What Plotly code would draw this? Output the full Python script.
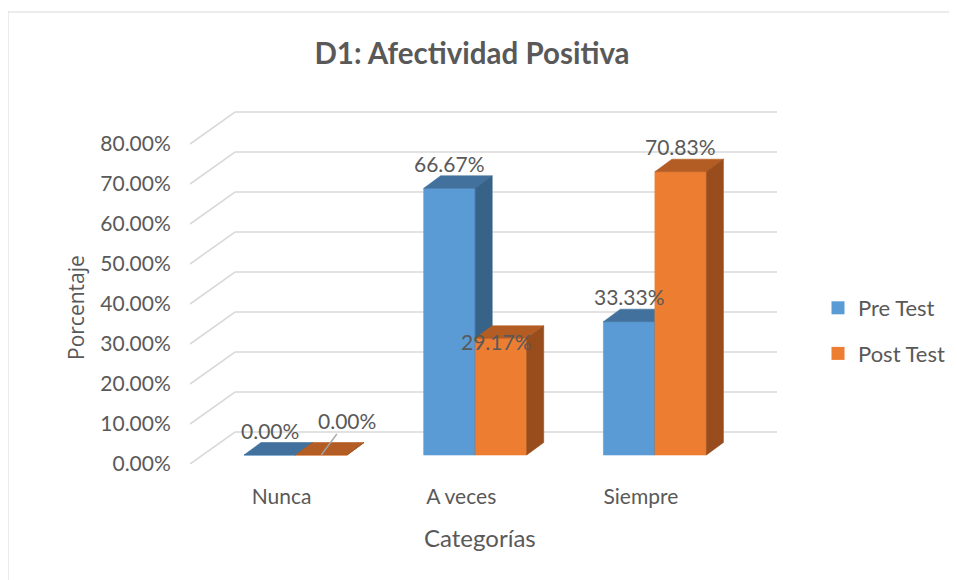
import plotly.graph_objects as go

# ---------------- data ----------------
categories = ["Nunca", "A veces", "Siempre"]
pre_test = [0.00, 66.67, 33.33]
post_test = [0.00, 29.17, 70.83]
series_names = ["Pre Test", "Post Test"]
y_ticks = [0, 10, 20, 30, 40, 50, 60, 70, 80]
y_tick_labels = [f"{t:.2f}%" for t in y_ticks]

# ---------------- style / geometry ----------------
O = 8                       # page body margin in the browser
W, H = 957 - O, 580 - O
PL, PR, PT, PB = 190, 777, 111, 464   # plot area in page pixels
M_L, M_R, M_T, M_B = PL - O, 957 - PR, PT - O, 580 - PB
PW, PH = PR - PL, PB - PT
PX_X = 179.7            # px per category step
PX_Y = 4.0              # px per percentage point
cat0_px = 295.5         # px of the first category centre
bar_w = 51.5 / PX_X
lift = 9 / PX_Y         # front faces sit a bit behind the front edge
dx = 17 / PX_X          # depth of the bars
dy = 12.5 / PX_Y
gx_front = (PL - cat0_px) / PX_X
gx_back = (235 - cat0_px) / PX_X
gx_right = (PR - cat0_px) / PX_X
g_dy = 32 / PX_Y
y_max = PH / PX_Y

colors = {
    "Pre Test": ("#5B9BD5", "#41719C", "#386389"),
    "Post Test": ("#ED7D31", "#B35C23", "#994D1D"),
}
TXT = "#595959"
FONT = "Lato"

fig = go.Figure()

# perspective grid lines (front-left diagonal + back wall)
gxs, gys = [], []
for t in y_ticks:
    gxs += [gx_front, gx_back, gx_right, None]
    gys += [t, t + g_dy, t + g_dy, None]
fig.add_trace(go.Scatter(x=gxs, y=gys, mode="lines",
                         line=dict(color="#D9D9D9", width=1.6),
                         hoverinfo="skip", showlegend=False))

values = {"Pre Test": pre_test, "Post Test": post_test}
for k, name in enumerate(series_names):
    vals = values[name]
    cf, ct, cs = colors[name]
    fx, fy, tx, ty, sx, sy = [], [], [], [], [], []
    for i, v in enumerate(vals):
        x0 = i - bar_w if k == 0 else i
        x1 = x0 + bar_w
        b, top = lift, lift + v
        fx += [x0, x1, x1, x0, x0, None]
        fy += [b, b, top, top, b, None]
        tx += [x0, x1, x1 + dx, x0 + dx, x0, None]
        ty += [top, top, top + dy, top + dy, top, None]
        sx += [x1, x1 + dx, x1 + dx, x1, x1, None]
        sy += [b, b + dy, top + dy, top, b, None]
    for xs, ys, c in ((fx, fy, cf), (tx, ty, ct), (sx, sy, cs)):
        fig.add_trace(go.Scatter(x=xs, y=ys, mode="lines", fill="toself",
                                 fillcolor=c, line=dict(color=c, width=0.6),
                                 hoverinfo="skip", showlegend=False))
    # legend entry
    fig.add_trace(go.Scatter(x=[None], y=[None], mode="markers", name=name,
                             legendgroup=name,
                             marker=dict(symbol="square", size=13, color=cf)))

# data labels
label_shift = {("Post Test", 0): (26, 35), ("Post Test", 1): (-4, -3)}
leader = {("Post Test", 0)}
for k, name in enumerate(series_names):
    for i, v in enumerate(values[name]):
        xc = i - bar_w / 2 if k == 0 else i + bar_w / 2
        txt = f"{v:.2f}%"
        sx_, sy_ = label_shift.get((name, i), (0, 25))
        if (name, i) in leader:
            fig.add_annotation(x=xc, y=lift + v, text=txt, showarrow=True,
                               arrowhead=0, arrowwidth=1.3, arrowcolor="#A6A6A6",
                               ax=sx_, ay=-sy_, standoff=0,
                               font=dict(family=FONT, size=21, color=TXT))
        else:
            fig.add_annotation(x=xc, y=lift + v, text=txt, showarrow=False,
                               xshift=sx_, yshift=sy_,
                               font=dict(family=FONT, size=21, color=TXT))

# axis titles
fig.add_annotation(text="Categorías", xref="paper", yref="paper",
                   x=(480 - PL) / PW, y=-(537 - PB) / PH,
                   xanchor="center", yanchor="middle",
                   showarrow=False, font=dict(family=FONT, size=24, color=TXT))
fig.add_annotation(text="Porcentaje", xref="paper", yref="paper", textangle=-90,
                   x=-(PL - 76) / PW, y=(PB - 307) / PH,
                   xanchor="center", yanchor="middle",
                   showarrow=False, font=dict(family="Open Sans", size=21, color=TXT))

# chart border
fig.add_shape(type="rect", xref="paper", yref="paper",
              x0=-(PL - 8) / PW, x1=2,
              y0=-1, y1=(PB - 12) / PH,
              line=dict(color="#D9D9D9", width=1), layer="below")

fig.update_layout(
    width=W, height=H,
    margin=dict(l=M_L, r=M_R, t=M_T, b=M_B, autoexpand=False),
    paper_bgcolor="white", plot_bgcolor="white",
    title=dict(text="<b>D1: Afectividad Positiva</b>", x=(472 - O) / W, xanchor="center",
               y=1 - (54 - O) / H, yanchor="middle",
               font=dict(family=FONT, size=29.5, color=TXT)),
    xaxis=dict(range=[gx_front, gx_right], showgrid=False, zeroline=False,
               showline=False, tickmode="array",
               tickvals=[i - 14 / PX_X for i in range(len(categories))],
               ticktext=categories, ticks="outside", ticklen=14,
               tickcolor="rgba(0,0,0,0)", automargin=False,
               tickfont=dict(family=FONT, size=21, color=TXT), fixedrange=True),
    yaxis=dict(range=[0, y_max], showgrid=False, zeroline=False, showline=False,
               tickmode="array", tickvals=y_ticks, ticktext=y_tick_labels,
               ticks="outside", ticklen=14, tickcolor="rgba(0,0,0,0)", automargin=False,
               tickfont=dict(family=FONT, size=21, color=TXT), fixedrange=True),
    legend=dict(x=(818 - PL) / PW, xanchor="left",
                y=(PB - 331) / PH, yanchor="middle",
                font=dict(family=FONT, size=22, color=TXT),
                tracegroupgap=14, bgcolor="rgba(0,0,0,0)"),
    showlegend=True,
)

fig.write_html("out.html")
